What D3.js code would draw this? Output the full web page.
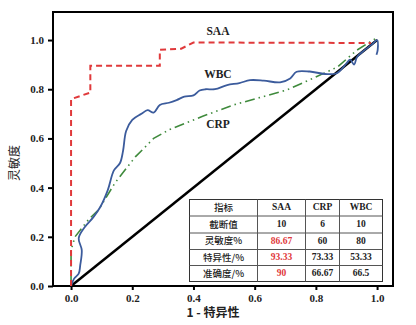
<!DOCTYPE html>
<html><head><meta charset="utf-8">
<script src="https://cdn.jsdelivr.net/npm/d3@7"></script>
<style>body{margin:0;background:#fff}svg{display:block}</style>
</head><body><div id="c"></div>
<script>
const xTicks=[0,0.2,0.4,0.6,0.8,1.0];
const yTicks=[0,0.2,0.4,0.6,0.8,1.0];
const saa=[[0,0],[0,0.76],[0.06,0.785],[0.063,0.785],[0.063,0.895],[0.29,0.895],[0.29,0.96],[0.36,0.965],[0.4,0.99],[0.98,0.988]];
const wbc=[[0,0],[0.01,0.03],[0.025,0.05],[0.03,0.085],[0.035,0.146],[0.025,0.195],[0.045,0.24],[0.073,0.28],[0.095,0.32],[0.12,0.39],[0.14,0.47],[0.16,0.5],[0.17,0.55],[0.18,0.63],[0.2,0.675],[0.23,0.7],[0.25,0.715],[0.27,0.705],[0.29,0.736],[0.32,0.745],[0.345,0.756],[0.37,0.77],[0.4,0.775],[0.42,0.795],[0.44,0.8],[0.47,0.8],[0.51,0.817],[0.55,0.825],[0.585,0.837],[0.63,0.835],[0.683,0.828],[0.716,0.844],[0.737,0.871],[0.78,0.872],[0.83,0.862],[0.868,0.865],[0.9,0.905],[0.912,0.92],[0.925,0.9],[0.934,0.93],[0.96,0.96],[0.987,0.986],[1.0,1.0],[1.002,0.96],[0.998,0.94]];
const crp=[[0,0],[0,0.146],[0.013,0.2],[0.057,0.27],[0.09,0.31],[0.144,0.42],[0.21,0.525],[0.27,0.6],[0.32,0.635],[0.43,0.69],[0.53,0.736],[0.705,0.797],[0.79,0.844],[0.87,0.89],[0.934,0.959],[1.0,1.01]];
const diag=[[0,0],[1,1]];
const tableHeader=["指标","SAA","CRP","WBC"];
const tableRows=[["截断值","10","6","10"],["灵敏度%","86.67","60","80"],["特异性/%","93.33","73.33","53.33"],["准确度/%","90","66.67","66.5"]];
const curveLabels=[{t:"SAA",x:0.48,y:1.03},{t:"WBC",x:0.48,y:0.858},{t:"CRP",x:0.48,y:0.652}];

const W=416,H=325;
const L=53,R=393,T=12,B=286;
const svg=d3.select("#c").append("svg").attr("width",W).attr("height",H);
const x=d3.scaleLinear().domain([-0.059,1.052]).range([L,R]);
const y=d3.scaleLinear().domain([0,1.114]).range([B,T]);
const serif="'Liberation Serif','Times New Roman',serif";

svg.append("rect").attr("x",L).attr("y",T).attr("width",R-L).attr("height",B-T).attr("fill","none").attr("stroke","#000").attr("stroke-width",2);

const ya=svg.append("g").attr("transform",`translate(${L},0)`).call(d3.axisLeft(y).tickValues(yTicks).tickFormat(d3.format(".1f")).tickSize(5).tickPadding(4));
const xa=svg.append("g").attr("transform",`translate(0,${B})`).call(d3.axisBottom(x).tickValues(xTicks).tickFormat(d3.format(".1f")).tickSize(4).tickPadding(4));
[ya,xa].forEach(g=>{g.select(".domain").remove();g.selectAll("line").attr("stroke","#000").attr("stroke-width",2);g.selectAll("text").attr("font-family",serif).attr("font-weight","bold").attr("font-size",11).attr("fill","#222");});

const line=d3.line().x(d=>x(d[0])).y(d=>y(d[1]));
const smooth=d3.line().x(d=>x(d[0])).y(d=>y(d[1])).curve(d3.curveCatmullRom.alpha(0.5));
svg.append("path").attr("d",line(diag)).attr("fill","none").attr("stroke","#000").attr("stroke-width",2.5);
svg.append("path").attr("d",line(crp)).attr("fill","none").attr("stroke","#3f8a3c").attr("stroke-width",1.6).attr("stroke-dasharray","10,4,1.5,4,1.5,4");
svg.append("path").attr("d",smooth(wbc)).attr("fill","none").attr("stroke","#3b5b9c").attr("stroke-width",1.8);
svg.append("path").attr("d",line(saa)).attr("fill","none").attr("stroke","#e0393b").attr("stroke-width",2).attr("stroke-dasharray","6,4");

svg.selectAll(".cl").data(curveLabels).enter().append("text").attr("x",d=>x(d.x)).attr("y",d=>y(d.y)).attr("text-anchor","middle").attr("dominant-baseline","middle").attr("font-family",serif).attr("font-weight","bold").attr("font-size",11.5).attr("fill","#222").text(d=>d.t);

svg.append("text").attr("transform","translate(16,163) rotate(-90)").attr("text-anchor","middle").attr("dominant-baseline","middle").attr("font-family","'Noto Sans CJK SC'").attr("font-size",12).attr("fill","#222").text("灵敏度");
svg.append("text").attr("x",213).attr("y",314).attr("text-anchor","middle").attr("dominant-baseline","middle").attr("font-family","'Noto Sans CJK SC',sans-serif").attr("font-weight","bold").attr("font-size",12).attr("fill","#222").text("1 - 特异性");

const colX=[189.5,257.5,305.5,339.5,382.5];
const rowY=[199.5,216,233,249.5,265.5,281.5];
const tg=svg.append("g");
tg.append("rect").attr("x",colX[0]).attr("y",rowY[0]).attr("width",colX[4]-colX[0]).attr("height",rowY[5]-rowY[0]).attr("fill","#fff").attr("stroke","#333").attr("stroke-width",1);
colX.slice(1,4).forEach(cx=>tg.append("line").attr("x1",cx).attr("x2",cx).attr("y1",rowY[0]).attr("y2",rowY[5]).attr("stroke","#555"));
rowY.slice(1,5).forEach(ry=>tg.append("line").attr("x1",colX[0]).attr("x2",colX[4]).attr("y1",ry).attr("y2",ry).attr("stroke","#555"));
const allRows=[tableHeader].concat(tableRows);
allRows.forEach((row,ri)=>row.forEach((cell,ci)=>{
  const red=(ci===1&&ri>=2);
  tg.append("text").attr("x",(colX[ci]+colX[ci+1])/2).attr("y",(rowY[ri]+rowY[ri+1])/2+0.5).attr("text-anchor","middle").attr("dominant-baseline","middle")
   .attr("font-family",ci===0?"'Noto Sans CJK SC'":serif).attr("font-weight",ci===0?"500":"bold").attr("font-size",9.5).attr("fill",red?"#e0393b":"#222").text(cell);
}));
</script></body></html>
